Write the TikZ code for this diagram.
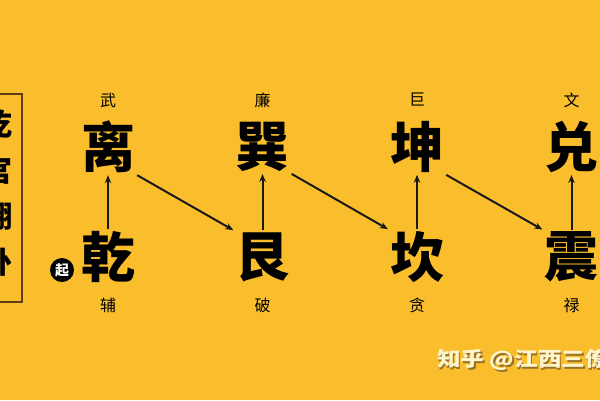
\documentclass[tikz,border=0pt]{standalone}
\usepackage{fontspec}
\usepackage{tikz}
\usetikzlibrary{
	positioning,
	arrows.meta
}
\newfontfamily\cjk{Noto Sans CJK SC}
\definecolor{huang}{RGB}{250,190,45}
\definecolor{kuang}{RGB}{95,60,20}
\definecolor{shuiyin}{RGB}{255,245,205}
\definecolor{yinying}{RGB}{150,115,40}
\tikzset{
	node distance=154.5pt,
	gua/.style={
		font={\cjk\bfseries\fontsize{54}{54}\selectfont},
		inner sep=2pt
	},
	xing/.style={
		font={\cjk\fontsize{16}{16}\selectfont},
		inner sep=0pt
	},
	qidian/.style={
		circle, fill=black, text=white, inner sep=0pt, minimum size=24pt,
		font={\cjk\bfseries\fontsize{14}{14}\selectfont}
	},
	shuiyinzi/.style={
		anchor=west, xscale=1.18, inner sep=0pt,
		font={\cjk\bfseries\fontsize{20}{20}\selectfont}
	},
	every edge/.append style={
		-{Stealth[length=8pt,width=6.5pt]}, line width=2pt, black!90
	}
}

\begin{document}
\begin{tikzpicture}[x=1pt,y=-1pt]
		\fill[huang] (0,0) rectangle (600,400);
		\useasboundingbox (0,0) rectangle (600,400);

		% left box, cut off by the edge
		\draw[kuang, line width=1.3pt] (-40,94) rectangle (22,302);
		\foreach \zi [count=\i] in {乾,宫,翻,卦}
			\node[font={\cjk\bfseries\fontsize{30}{30}\selectfont}] (biaoti\i) at (-2,{124+46*(\i-1)}) {\zi};

		\draw
			node[gua] (li) at (108,147) {离}
			node[gua,right of=li]  (xun) {巽}
			node[gua,right of=xun] (kun) {坤}
			node[gua,right of=kun] (dui) {兑}
			node[gua,below of=li,node distance=110pt]  (qian) {乾}
			node[gua,below of=xun,node distance=110pt] (gen)  {艮}
			node[gua,below of=kun,node distance=110pt] (kan)  {坎}
			node[gua,below of=dui,node distance=110pt] (zhen) {震}

			node[xing,above of=li,node distance=47pt]  (wu)   {武}
			node[xing,above of=xun,node distance=47pt] (lian) {廉}
			node[xing,above of=kun,node distance=47pt] (ju)   {巨}
			node[xing,above of=dui,node distance=47pt] (wen)  {文}
			node[xing,below of=qian,node distance=48pt] (fu)  {辅}
			node[xing,below of=gen,node distance=48pt]  (po)  {破}
			node[xing,below of=kan,node distance=48pt]  (tan) {贪}
			node[xing,below of=zhen,node distance=48pt] (lu)  {禄}

			node[qidian] (qi) at (62,270) {起}

			(qian) edge (li)
			(li.south east) edge (gen.north west)
			(gen) edge (xun)
			(xun.south east) edge (kan.north west)
			(kan) edge (kun)
			(kun.south east) edge (zhen.north west)
			(zhen) edge (dui)
		;

		% watermark
		\node[shuiyinzi, text=yinying] (yin)   at (438.5,361.5) {知乎 @江西三僚};
		\node[shuiyinzi, text=shuiyin] (zhihu) at (437,360)     {知乎 @江西三僚};
	\end{tikzpicture}
\end{document}
